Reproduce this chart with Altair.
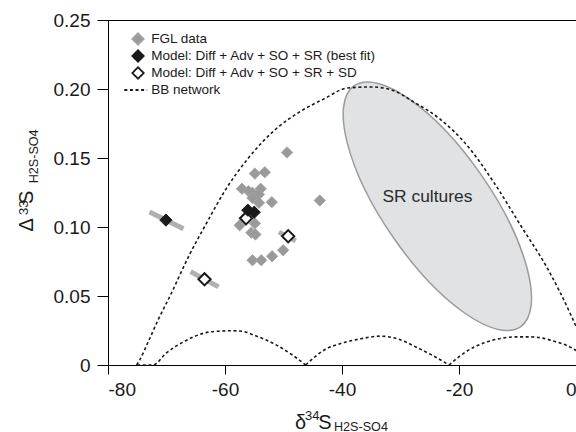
import altair as alt
import pandas as pd

# ---------------- data ----------------
S_FGL = "FGL data"
S_BEST = "Model: Diff + Adv + SO + SR (best fit)"
S_SD = "Model: Diff + Adv + SO + SR + SD"
S_BB = "BB network"
series_names = [S_FGL, S_BEST, S_SD, S_BB]

fgl_x = [-49.4, -54.9, -53.2, -57.1, -56.0, -55.3, -53.9, -54.2, -52.0, -55.3, -54.2,
         -43.8, -57.5, -54.9, -55.5, -54.8, -55.3, -53.8, -51.95, -50.06]
fgl_y = [0.154, 0.1387, 0.1397, 0.1277, 0.126, 0.1248, 0.1277, 0.1236, 0.118, 0.121, 0.1175,
         0.1192, 0.1012, 0.1026, 0.0959, 0.0946, 0.0759, 0.0759, 0.0788, 0.0832]

best_x = [-70.1, -56.1, -55.0]
best_y = [0.105, 0.1122, 0.1107]

sd_x = [-63.5, -56.4, -49.2]
sd_y = [0.0621, 0.1063, 0.0933]

bar_x1 = [-72.9, -65.9, -50.8]
bar_y1 = [0.1108, 0.0677, 0.0963]
bar_x2 = [-67.1, -61.1, -47.9]
bar_y2 = [0.0988, 0.0566, 0.0900]

dome_x = [-75.1, -74.6, -73.0, -71.4, -69.4, -66.0, -63.0, -60.2, -56.0, -51.3, -47.2, -43.0,
          -39.1, -35.0, -31.6, -27.5, -23.1, -18.5, -14.0, -9.4, -4.8, -0.8, 0.0]
dome_y = [0.0, 0.0035, 0.018, 0.033, 0.050, 0.0805, 0.104, 0.125, 0.150, 0.171, 0.1835, 0.193,
          0.2007, 0.2015, 0.1994, 0.190, 0.1777, 0.1585, 0.132, 0.1007, 0.0694, 0.0356, 0.028]
arch1_x = [-75.0, -72.3, -70.0, -66.9, -63.4, -61.2, -59.2, -57.2, -54.9, -51.4, -48.6, -46.2]
arch1_y = [0.0, 0.0, 0.0088, 0.0172, 0.0233, 0.0245, 0.0248, 0.0245, 0.0214, 0.0149, 0.0076, 0.0]
arch2_x = [-46.2, -42.9, -40.2, -36.8, -33.4, -30.5, -27.1, -24.3, -21.7]
arch2_y = [0.0, 0.0112, 0.0156, 0.019, 0.0209, 0.019, 0.0125, 0.0064, 0.0]
arch3_x = [-21.7, -19.1, -15.7, -12.5, -10.5, -7.7, -3.7, -0.25, 0.0]
arch3_y = [0.0, 0.0088, 0.0161, 0.0195, 0.0204, 0.0204, 0.0172, 0.0112, 0.0105]

sr_center_x = [-23.7]
sr_center_y = [0.1150]
sr_label_x = [-25.4]
sr_label_y = [0.122]
sr_label = ["SR cultures"]

x_ticks = [-80, -60, -40, -20, 0]
y_ticks = [0, 0.05, 0.10, 0.15, 0.20, 0.25]

# ---------------- tables ----------------
fgl_df = pd.DataFrame({"x": fgl_x, "y": fgl_y, "series": S_FGL})
best_df = pd.DataFrame({"x": best_x, "y": best_y, "series": S_BEST})
sd_df = pd.DataFrame({"x": sd_x, "y": sd_y, "series": S_SD})
bar_df = pd.DataFrame({"x": bar_x1, "y": bar_y1, "x2": bar_x2, "y2": bar_y2})
curves = []
for name, xs, ys in [("dome", dome_x, dome_y), ("a1", arch1_x, arch1_y),
                     ("a2", arch2_x, arch2_y), ("a3", arch3_x, arch3_y)]:
    for xv, yv in zip(xs, ys):
        curves.append({"x": xv, "y": yv, "curve": name, "series": S_BB})
line_df = pd.DataFrame(curves)
ell_df = pd.DataFrame({"x": sr_center_x, "y": sr_center_y})
sr_df = pd.DataFrame({"x": sr_label_x, "y": sr_label_y, "t": sr_label})

FONT = "Liberation Sans"
INK = "#1a1a1a"

x_enc = alt.X("x:Q", scale=alt.Scale(domain=[-80, 0], nice=False, zero=False),
              axis=alt.Axis(values=x_ticks, title=None, grid=False, domainColor="black",
                            tickColor="black", tickSize=9, labelPadding=6, labelFontSize=19,
                            labelFont=FONT, labelColor=INK,
                            labelExpr="datum.value < 0 ? '-' + format(-datum.value, 'd') : '0'"))
y_enc = alt.Y("y:Q", scale=alt.Scale(domain=[0, 0.25], nice=False, zero=False),
              axis=alt.Axis(values=y_ticks, title=None, grid=False, domainColor="black",
                            tickColor="black", tickSize=11, labelPadding=7, labelFontSize=19,
                            labelFont=FONT, labelColor=INK,
                            labelExpr="datum.value == 0 ? '0' : format(datum.value, '.2f')"))

shape_scale = alt.Scale(domain=series_names, range=["diamond", "diamond", "diamond", "M-2.4,0L1.6,0"])
fill_scale = alt.Scale(domain=series_names, range=["#9a9a9a", "#1a1a1a", "#ffffff", "transparent"])
stroke_scale = alt.Scale(domain=series_names, range=["#a3a3a3", "#1a1a1a", "#1a1a1a", "#1a1a1a"])
dash_scale = alt.Scale(domain=series_names, range=[[1, 0], [1, 0], [1, 0], [3, 2.6]])


def pts(df, size, sw):
    return alt.Chart(df).mark_point(filled=True, opacity=1, size=size, strokeWidth=sw).encode(
        x=x_enc, y=y_enc,
        shape=alt.Shape("series:N", scale=shape_scale, legend=alt.Legend(title=None)),
        fill=alt.Fill("series:N", scale=fill_scale, legend=alt.Legend(title=None)),
        stroke=alt.Stroke("series:N", scale=stroke_scale, legend=alt.Legend(title=None)),
    )


ELLIPSE = "M-0.568,-0.823A1,0.371,55.4,0,1,0.568,0.823A1,0.371,55.4,0,1,-0.568,-0.823Z"
ellipse = alt.Chart(ell_df).mark_point(shape=ELLIPSE, size=85849, filled=True, opacity=1,
                                       fill="#e1e2e4", stroke="#9b9b9b", strokeWidth=1.5).encode(
    x=x_enc, y=y_enc)
sr_text = alt.Chart(sr_df).mark_text(font=FONT, fontSize=17.4, color="#2a2a2a").encode(
    x=x_enc, y=y_enc, text="t:N")

lines = alt.Chart(line_df).mark_line(strokeWidth=1.6, interpolate="monotone").encode(
    x=x_enc, y=y_enc, detail="curve:N",
    stroke=alt.Stroke("series:N", scale=stroke_scale, legend=alt.Legend(title=None)),
    strokeDash=alt.StrokeDash("series:N", scale=dash_scale, legend=alt.Legend(title=None)),
)

bars = alt.Chart(bar_df).mark_rule(strokeWidth=5, color="#b0b0b0", strokeCap="butt").encode(
    x=x_enc, y=y_enc, x2="x2:Q", y2="y2:Q")

fgl = pts(fgl_df, 130, 0.8)
sd = pts(sd_df, 150, 2)
best = pts(best_df, 150, 1)


def txt(s, x, y, size, angle=0):
    return alt.Chart(pd.DataFrame({"t": [s]})).mark_text(
        font=FONT, fontSize=size, color=INK, align="left", baseline="alphabetic", angle=angle
    ).encode(x=alt.value(x), y=alt.value(y), text="t:N")


title_parts = [
    txt("δ", 187, 409.3, 20), txt("34", 197, 400, 13), txt("S", 210.3, 409.3, 20),
    txt("H2S-SO4", 226, 410.5, 12.6),
    txt("Δ", -74.7, 211.5, 20, 270), txt("33", -79.7, 195, 13, 270), txt("S", -74.7, 184, 20, 270),
    txt("H2S-SO4", -69.7, 163.3, 12.6, 270),
]

chart = alt.layer(ellipse, sr_text, lines, bars, fgl, sd, best, *title_parts).properties(
    width=468, height=345,
    autosize=alt.AutoSizeParams(type="none"),
    padding={"left": 108, "top": 20, "right": 0, "bottom": 67},
).configure_view(stroke="black", strokeWidth=1).configure_legend(
    orient="none", legendX=23, legendY=12, padding=0, labelFont=FONT, labelFontSize=13.5,
    labelColor=INK, symbolSize=130, symbolStrokeWidth=1.8, rowPadding=-6, labelOffset=6.3,
    labelLimit=500,
)

chart.save("out.html", embed_options={"renderer": "svg", "actions": False})
